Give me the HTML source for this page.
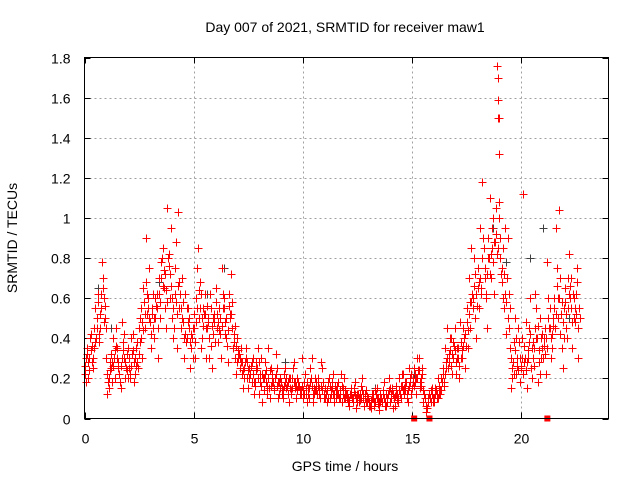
<!DOCTYPE html>
<html><head><meta charset="utf-8"><style>
html,body{margin:0;padding:0;background:#fff}
svg{display:block;font-family:"Liberation Sans",sans-serif}
</style></head><body>
<svg id="chart" width="640" height="480" viewBox="0 0 640 480">
<rect width="640" height="480" fill="#fff"/>
<text x="345" y="32" font-size="14" text-anchor="middle" fill="#000">Day 007 of 2021, SRMTID for receiver maw1</text>
<text x="345" y="471" font-size="14" text-anchor="middle" fill="#000">GPS time / hours</text>
<text transform="translate(17,238) rotate(-90)" font-size="14" text-anchor="middle" fill="#000">SRMTID / TECUs</text>
<g id="grid"></g>
<g id="ticks"></g>
<g id="marks"></g>
<rect x="84.5" y="57.5" width="524" height="361" fill="none" stroke="#000" stroke-width="1"/>
</svg>
<script>
const xTicks=[0,5,10,15,20];
const yTicks=[0,0.2,0.4,0.6,0.8,1,1.2,1.4,1.6,1.8];
const yTickLabels=["0","0.2","0.4","0.6","0.8","1","1.2","1.4","1.6","1.8"];
const times=[0.0,0.1,0.2,0.3,0.4,0.5,0.6,0.7,0.8,0.9,1.0,1.1,1.2,1.3,1.4,1.5,1.6,1.7,1.8,1.9,2.0,2.1,2.2,2.3,2.4,2.5,2.6,2.7,2.8,2.9,3.0,3.1,3.2,3.3,3.4,3.5,3.6,3.7,3.8,3.9,4.0,4.1,4.2,4.3,4.4,4.5,4.6,4.7,4.8,4.9,5.0,5.1,5.2,5.3,5.4,5.5,5.6,5.7,5.8,5.9,6.0,6.1,6.2,6.3,6.4,6.5,6.6,6.7,6.8,6.9,7.0,7.1,7.2,7.3,7.4,7.5,7.6,7.7,7.8,7.9,8.0,8.1,8.2,8.3,8.4,8.5,8.6,8.7,8.8,8.9,9.0,9.1,9.2,9.3,9.4,9.5,9.6,9.7,9.8,9.9,10.0,10.1,10.2,10.3,10.4,10.5,10.6,10.7,10.8,10.9,11.0,11.1,11.2,11.3,11.4,11.5,11.6,11.7,11.8,11.9,12.0,12.1,12.2,12.3,12.4,12.5,12.6,12.7,12.8,12.9,13.0,13.1,13.2,13.3,13.4,13.5,13.6,13.7,13.8,13.9,14.0,14.1,14.2,14.3,14.4,14.5,14.6,14.7,14.8,14.9,15.0,15.1,15.2,15.3,15.4,15.5,15.6,15.7,15.8,15.9,16.0,16.1,16.2,16.3,16.4,16.5,16.6,16.7,16.8,16.9,17.0,17.1,17.2,17.3,17.4,17.5,17.6,17.7,17.8,17.9,18.0,18.1,18.2,18.3,18.4,18.5,18.6,18.7,18.8,18.9,19.0,19.1,19.2,19.3,19.4,19.5,19.6,19.7,19.8,19.9,20.0,20.1,20.2,20.3,20.4,20.5,20.6,20.7,20.8,20.9,21.0,21.1,21.2,21.3,21.4,21.5,21.6,21.7,21.8,21.9,22.0,22.1,22.2,22.3,22.4,22.5,22.6];
const valsA=[.22,.35,.30,.42,.25,.55,.62,.45,.78,.60,
.30,.15,.25,.40,.20,.35,.22,.48,.30,.25,
.35,.20,.42,.30,.28,.45,.55,.65,.90,.60,
.48,.55,.40,.62,.70,.78,.85,.55,1.05,.72,
.60,.45,.88,1.03,.55,.48,.62,.40,.50,.35,
.45,.60,.85,.55,.40,.62,.45,.30,.55,.42,
.65,.38,.50,.75,.55,.40,.62,.72,.35,.30,
.40,.25,.28,.20,.35,.15,.22,.30,.18,.25,
.12,.30,.20,.18,.35,.10,.22,.15,.25,.12,
.18,.10,.25,.12,.20,.15,.28,.10,.18,.14,
.10,.22,.08,.15,.30,.12,.18,.20,.10,.25,
.15,.08,.20,.12,.22,.10,.18,.14,.08,.20,
.12,.06,.15,.10,.18,.08,.12,.20,.06,.14,
.10,.05,.12,.08,.15,.04,.10,.18,.06,.12,
.08,.15,.06,.12,.20,.10,.22,.14,.08,.18,
.15,.25,.12,.30,.20,.08,.10,.05,.12,.15,
.08,.14,.20,.12,.25,.35,.45,.28,.40,.30,
.22,.35,.48,.30,.40,.55,.70,.85,.60,.50,
.75,.95,1.18,.85,.60,.90,.70,1.00,.88,1.76,
1.08,.75,.55,.42,.90,.35,.20,.50,.30,.38,
.25,1.12,.48,.30,.60,.20,.35,.55,.28,.40,
.30,.45,.78,.55,.35,.60,.95,.50,.42,.25,
.65,.40,.82,.55,.50,.62,.30];
const valsB=[.30,.20,.40,.28,.35,.45,.38,.55,.65,.50,
.12,.28,.18,.30,.45,.25,.15,.38,.20,.32,
.25,.40,.18,.35,.25,.38,.30,.45,.52,.75,
.35,.45,.60,.30,.50,.80,.65,.45,.82,.95,
.40,.75,.35,.55,.70,.30,.38,.55,.25,.45,
.30,.75,.50,.35,.55,.30,.48,.62,.25,.52,
.45,.55,.30,.62,.42,.28,.50,.45,.38,.22,
.30,.35,.15,.28,.20,.25,.18,.12,.28,.35,
.22,.08,.28,.12,.15,.25,.18,.32,.10,.20,
.12,.22,.15,.08,.12,.25,.15,.20,.12,.30,
.18,.12,.15,.25,.08,.20,.12,.15,.28,.10,
.12,.18,.10,.15,.08,.16,.10,.22,.12,.10,
.08,.12,.10,.15,.05,.10,.16,.10,.12,.08,
.06,.10,.08,.12,.10,.08,.14,.06,.10,.20,
.12,.05,.16,.08,.12,.22,.15,.10,.25,.12,
.20,.18,.30,.15,.25,.12,.03,.10,.14,.08,
.15,.10,.12,.20,.18,.28,.25,.40,.22,.45,
.35,.20,.30,.45,.25,.35,.45,.62,.80,.40,
.55,.65,.90,.70,.45,1.10,.85,.62,1.05,1.50,
.80,.60,.95,.70,.45,.15,.38,.22,.45,.18,
.40,.28,.15,.45,.25,.38,.62,.18,.50,.35,
.40,.22,.60,.30,.50,.45,.75,1.04,.35,.55,
.45,.70,.60,.35,.48,.75,.55];
const valsC=[.26,.32,.24,.36,.45,.40,.58,.52,.70,.56,
.22,.20,.32,.26,.36,.28,.18,.30,.42,.24,
.30,.26,.34,.22,.38,.50,.48,.58,.68,.55,
.42,.62,.50,.55,.62,.70,.74,.64,.80,.60,
.50,.62,.52,.68,.45,.58,.42,.48,.38,.40,
.52,.48,.64,.62,.46,.52,.56,.40,.46,.48,
.58,.48,.42,.55,.48,.36,.56,.52,.42,.36,
.34,.30,.22,.25,.28,.20,.26,.22,.16,.20,
.18,.22,.14,.24,.20,.16,.18,.20,.16,.18,
.15,.16,.20,.18,.15,.20,.18,.14,.16,.12,
.14,.15,.12,.18,.16,.15,.14,.12,.16,.18,
.10,.14,.16,.18,.12,.14,.12,.10,.15,.14,
.10,.09,.12,.13,.10,.12,.09,.14,.10,.11,
.08,.09,.10,.14,.07,.12,.08,.10,.12,.14,
.10,.12,.11,.09,.14,.16,.12,.18,.14,.20,
.18,.22,.20,.24,.16,.14,.06,.08,.10,.12,
.10,.12,.16,.14,.22,.22,.30,.34,.32,.36,
.28,.30,.38,.36,.42,.48,.52,.58,.66,.62,
.65,.70,.80,.75,.72,.80,.82,.78,.92,.85,
.90,.68,.72,.58,.62,.30,.28,.34,.26,.30,
.30,.36,.24,.34,.42,.30,.45,.40,.34,.30,
.36,.40,.50,.45,.42,.55,.66,.60,.52,.48,
.58,.55,.66,.48,.60,.52,.45];
const valsD=[.18,.28,.34,.30,.38,.50,.42,.62,.48,.45,
.18,.24,.28,.34,.30,.22,.26,.34,.28,.20,
.22,.32,.28,.26,.32,.40,.44,.52,.62,.50,
.52,.50,.56,.45,.58,.66,.72,.58,.76,.66,
.55,.58,.66,.62,.50,.40,.55,.45,.42,.30,
.38,.55,.68,.50,.52,.45,.50,.36,.50,.38,
.52,.44,.46,.60,.50,.44,.52,.58,.46,.28,
.32,.28,.24,.30,.24,.22,.28,.18,.24,.28,
.16,.20,.22,.16,.24,.18,.14,.22,.18,.15,
.14,.18,.16,.20,.14,.18,.16,.16,.14,.16,
.12,.18,.10,.20,.12,.14,.16,.10,.14,.12,
.12,.10,.14,.12,.16,.12,.10,.16,.10,.12,
.10,.12,.08,.12,.12,.08,.10,.12,.08,.10,
.06,.12,.06,.10,.08,.10,.12,.08,.08,.15,
.14,.10,.12,.10,.16,.14,.18,.12,.16,.22,
.16,.20,.24,.18,.22,.10,.05,.12,.08,.10,
.12,.10,.14,.18,.16,.25,.32,.26,.38,.34,
.30,.26,.34,.40,.36,.44,.58,.55,.72,.56,
.68,.62,.85,.62,.80,.72,.95,.88,.82,1.00,
.72,.85,.62,.50,.55,.25,.22,.40,.24,.26,
.22,.30,.28,.38,.35,.26,.40,.46,.22,.42,
.32,.35,.45,.40,.46,.52,.60,.70,.58,.40,
.52,.62,.70,.62,.55,.68,.50];
const outlierTimes=[18.92,18.95,18.98,19.0];
const outlierVals=[1.70,1.59,1.50,1.32];
const grayTimes=[0.6,1.2,3.4,5.6,6.4,9.2,13.3,15.1,17.6,18.7,19.3,20.4,21.0,22.2];
const grayVals=[0.65,0.45,0.68,0.62,0.75,0.28,0.15,0.22,0.70,0.95,0.78,0.80,0.95,0.50];
const squareTimes=[15.1,15.8,21.2];
const squareVals=[0,0,0];

const X0=84.5,X1=608.5,Y0=418.5,Y1=57.5,XMAX=24,YMAX=1.8;
const sx=t=>X0+(t/XMAX)*(X1-X0);
const sy=v=>Y0-(v/YMAX)*(Y0-Y1);
const NS="http://www.w3.org/2000/svg";
const grid=document.getElementById('grid'),ticks=document.getElementById('ticks'),marks=document.getElementById('marks');
function mk(tag,attrs,parent){const e=document.createElementNS(NS,tag);for(const k in attrs)e.setAttribute(k,attrs[k]);parent.appendChild(e);return e;}
yTicks.forEach((v,i)=>{
  const y=Math.round(sy(v))+0.5;
  if(i>0&&i<yTicks.length-1){const g=mk('line',{x1:X0,x2:X1,y1:y,y2:y,stroke:'#a0a0a0','stroke-dasharray':'2,3'},grid);
  
  }
  mk('line',{x1:X0,x2:X0+6,y1:y,y2:y,stroke:'#000'},ticks);
  mk('line',{x1:X1-6,x2:X1,y1:y,y2:y,stroke:'#000'},ticks);
  const t=mk('text',{x:X0-14,y:y+5,'font-size':14,'text-anchor':'end',fill:'#000'},ticks);
  t.textContent=yTickLabels[i];
  
  
});
xTicks.forEach(v=>{
  const x=Math.round(sx(v))+0.5;
  if(v>0){const g=mk('line',{x1:x,x2:x,y1:Y0,y2:Y1,stroke:'#a0a0a0','stroke-dasharray':'2,3'},grid);
  
  }
  mk('line',{x1:x,x2:x,y1:Y0,y2:Y0-6,stroke:'#000'},ticks);
  mk('line',{x1:x,x2:x,y1:Y1,y2:Y1+6,stroke:'#000'},ticks);
  const t=mk('text',{x:x,y:Y0+25,'font-size':14,'text-anchor':'middle',fill:'#000'},ticks);
  t.textContent=String(v);
  
  
});
function plus(t,v,color,name){
  const x=Math.round(sx(t))+0.5,y=Math.round(sy(v))+0.5;
  const p=mk('path',{d:`M${x-4},${y}H${x+4}M${x},${y-4}V${y+4}`,stroke:color,'stroke-width':1,fill:'none'},marks);
  
  
}
grayTimes.forEach((t,i)=>plus(t,grayVals[i],'#404040','gray-point'));
times.forEach((t,i)=>{
  plus(t,valsA[i],'#ff0000','srmtid-point');
  plus(t+0.025,valsC[i],'#ff0000','srmtid-point');
  plus(t+0.05,valsB[i],'#ff0000','srmtid-point');
  plus(t+0.075,valsD[i],'#ff0000','srmtid-point');
});
outlierTimes.forEach((t,i)=>plus(t,outlierVals[i],'#ff0000','srmtid-outlier'));
squareTimes.forEach((t,i)=>{
  const r=mk('rect',{x:sx(t)-3,y:sy(squareVals[i])-3,width:6,height:6,fill:'#ff0000'},marks);
  
  
});
</script>
</body></html>
